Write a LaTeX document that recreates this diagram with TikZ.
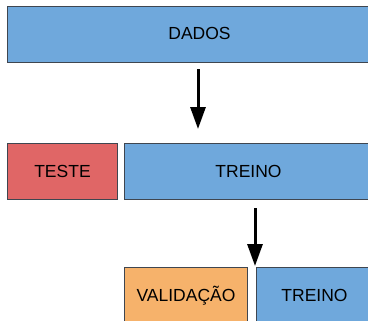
\documentclass[tikz,border=0pt]{standalone}
\usepackage{fontspec}
\setmainfont{Liberation Sans}
\usetikzlibrary{arrows.meta}
\definecolor{azul}{HTML}{6FA8DC}
\definecolor{vermelho}{HTML}{E06666}
\definecolor{laranja}{HTML}{F6B26B}
\definecolor{borda}{HTML}{3F4650}
\tikzset{
  caixa/.style = {draw = borda, line width = 1bp, inner sep = 0pt, anchor = north west,
    minimum height = 56bp, font = \fontsize{17.5bp}{21bp}\selectfont},
  seta/.style = {-{Triangle[length = 22bp, width = 15bp]}, line width = 3bp, shorten >= 1bp}
}
\begin{document}
\begin{tikzpicture}[x = 1bp, y = -1bp]
        \useasboundingbox (0, 0) rectangle (368, 321);
        \clip (0, 0) rectangle (368, 321);
        \fill[white] (0, 0) rectangle (368, 321);

        \node[caixa, fill = azul, minimum width = 385bp] (dados) at (7, 6) {};
        \node at (199.5, 33) {\fontsize{17.5bp}{21bp}\selectfont DADOS};

        \node[caixa, fill = vermelho, minimum width = 110bp] (teste) at (7, 143) {TESTE};
        \node[caixa, fill = azul, minimum width = 248bp] (treino) at (124, 143) {TREINO};

        \node[caixa, fill = laranja, minimum width = 123bp] (validacao) at (124, 267) {VALIDAÇÃO};
        \node[caixa, fill = azul, minimum width = 116bp] (treinoval) at (256, 267) {\raisebox{-1.5bp}{TREINO}};

        \coordinate (ini1) at (198, 69);
        \coordinate (ini2) at (255, 208);
        \draw[seta, shorten >= 14bp] (ini1) -- (ini1 |- treino.north);
        \draw[seta] (ini2) -- (ini2 |- validacao.north);
      \end{tikzpicture}
\end{document}
